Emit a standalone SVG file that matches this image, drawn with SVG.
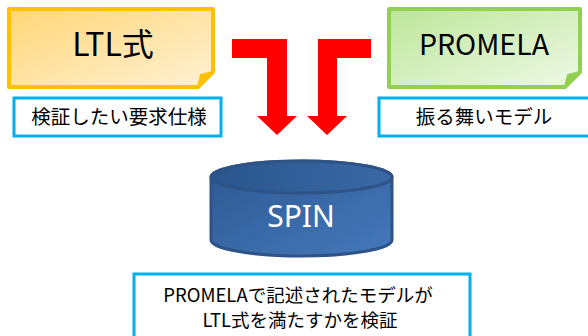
<svg xmlns="http://www.w3.org/2000/svg" width="588" height="336" viewBox="0 0 588 336">
<defs>
<linearGradient id="gOrange" x1="0" y1="0" x2="1" y2="1">
<stop offset="0" stop-color="#FFD677"/>
<stop offset="1" stop-color="#FFF1D4"/>
</linearGradient>
<linearGradient id="gGreen" x1="0" y1="0" x2="1" y2="1">
<stop offset="0" stop-color="#BDE59A"/>
<stop offset="1" stop-color="#EEF9E6"/>
</linearGradient>
<linearGradient id="gBlue" x1="0" y1="0" x2="1" y2="1">
<stop offset="0" stop-color="#2C5890"/>
<stop offset="1" stop-color="#4579BC"/>
</linearGradient>
<linearGradient id="gBlueTop" x1="0" y1="0" x2="1" y2="0">
<stop offset="0" stop-color="#2A558C"/>
<stop offset="1" stop-color="#3A69A6"/>
</linearGradient>
</defs>
<style>
.jp{font-family:"Noto Sans CJK JP","Noto Sans",sans-serif;fill:#000;text-anchor:middle;}
.lbl{fill:#fff;stroke:#00B0F0;stroke-width:3;}
.arrow{fill:#FF0000;}
</style>
<g id="ltl">
<path d="M9,9 H213 V72 L198,87 H9 Z" fill="url(#gOrange)" stroke="#FFC000" stroke-width="4" stroke-linejoin="round"/>
<path d="M198,87 L201,75 L213,72 Z" fill="#FFC000" stroke="#FFC000" stroke-width="2" stroke-linejoin="round"/>
<text x="113" y="56" class="jp" font-size="32">LTL式</text>
</g>
<g id="promela">
<path d="M389,9 H580 V72 L565,87 H389 Z" fill="url(#gGreen)" stroke="#92D050" stroke-width="4" stroke-linejoin="round"/>
<path d="M565,87 L568,75 L580,72 Z" fill="#92D050" stroke="#92D050" stroke-width="2" stroke-linejoin="round"/>
<text x="484" y="55" class="jp" font-size="28.5">PROMELA</text>
</g>
<g id="req">
<rect x="14" y="98" width="207" height="38" class="lbl"/>
<text x="119" y="124" class="jp" font-size="19.5">検証したい要求仕様</text>
</g>
<g id="model">
<rect x="379" y="98" width="212" height="38" class="lbl"/>
<text x="484" y="124" class="jp" font-size="19.5">振る舞いモデル</text>
</g>
<g id="connectors">
<path class="arrow" d="M232,39 H287 V116 H297 L277,135 L257,116 H267 V58 H232 Z"/>
<path class="arrow" d="M371,39 H318 V116 H307 L327,135 L347,116 H337 V58 H371 Z"/>
</g>
<g id="spin">
<path d="M211,177 A90.5,16 0 0,1 392,177 V240 A90.5,16 0 0,1 211,240 Z" fill="url(#gBlue)" stroke="#2E5386" stroke-width="3"/>
<ellipse cx="301.5" cy="177" rx="90.5" ry="16" fill="url(#gBlueTop)" stroke="#2E5386" stroke-width="3"/>
<text x="301" y="227" font-family="'Noto Sans',sans-serif" font-size="30" fill="#fff" text-anchor="middle">SPIN</text>
</g>
<g id="result">
<rect x="134" y="274" width="336" height="70" class="lbl"/>
<text x="298" y="302" class="jp" font-size="18.5">PROMELAで記述されたモデルが</text>
<text x="300" y="327" class="jp" font-size="18.5">LTL式を満たすかを検証</text>
</g>
</svg>
